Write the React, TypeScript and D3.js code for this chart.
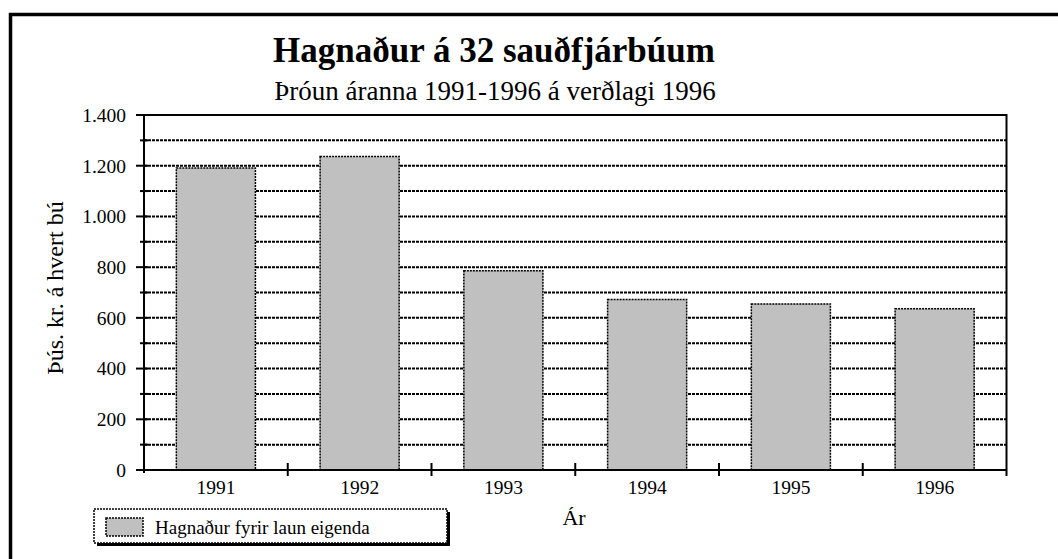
import React, { useRef, useEffect } from "react";
import * as d3 from "d3";

// data
const years = ["1991", "1992", "1993", "1994", "1995", "1996"];
const profit = [1191, 1236, 786, 672, 655, 636];
const yTicks = [0, 200, 400, 600, 800, 1000, 1200, 1400];
const yMinorTicks = [100, 300, 500, 700, 900, 1100, 1300];

const title = "Hagnaður á 32 sauðfjárbúum";
const subtitle = "Þróun áranna 1991-1996 á verðlagi 1996";
const yLabel = "Þús. kr. á hvert bú";
const xLabel = "Ár";
const legendLabel = "Hagnaður fyrir laun eigenda";

const FONT = "'Liberation Serif', 'Times New Roman', serif";

const App = () => {
  const svgRef = useRef<SVGSVGElement>(null);

  useEffect(() => {
    const svg = d3.select(svgRef.current);
    svg.selectAll("*").remove();

    const width = 1058;
    const height = 559;
    const margin = { top: 115, right: 51.5, bottom: 89, left: 144 };

    const locale = d3.formatLocale({
      decimal: ",",
      thousands: ".",
      grouping: [3],
      currency: ["", ""],
    });
    const fmt = locale.format(",");

    const x = d3
      .scaleBand()
      .domain(years)
      .range([margin.left, width - margin.right])
      .paddingInner(0.45)
      .paddingOuter(0.225);

    const y = d3
      .scaleLinear()
      .domain([0, 1400])
      .range([height - margin.bottom, margin.top]);

    const x0 = margin.left;
    const x1 = width - margin.right;
    const y0 = y(0);
    const step = x.step();

    // outer frame (runs off the page on the right and bottom)
    svg
      .append("rect")
      .attr("x", 10.5)
      .attr("y", 14.5)
      .attr("width", 1100)
      .attr("height", 600)
      .attr("fill", "none")
      .attr("stroke", "#000")
      .attr("stroke-width", 3.5);

    // title
    svg
      .append("text")
      .attr("x", 494)
      .attr("y", 62)
      .attr("text-anchor", "middle")
      .attr("font-family", FONT)
      .attr("font-weight", "bold")
      .attr("font-size", 35)
      .text(title);

    svg
      .append("text")
      .attr("x", 495)
      .attr("y", 100)
      .attr("text-anchor", "middle")
      .attr("font-family", FONT)
      .attr("font-size", 27)
      .text(subtitle);

    // gridlines
    svg
      .append("g")
      .selectAll("line")
      .data([...yTicks.slice(1, -1), ...yMinorTicks])
      .enter()
      .append("line")
      .attr("x1", x0)
      .attr("x2", x1)
      .attr("y1", (d) => y(d))
      .attr("y2", (d) => y(d))
      .attr("stroke", "#000")
      .attr("stroke-width", 2)
      .attr("stroke-dasharray", "3,1");

    // plot frame: top and right
    svg
      .append("path")
      .attr("d", `M${x0},${y(1400)}H${x1}V${y0 + 6}`)
      .attr("fill", "none")
      .attr("stroke", "#000")
      .attr("stroke-width", 2);

    // bars
    svg
      .selectAll(".bar")
      .data(years)
      .enter()
      .append("rect")
      .attr("class", "bar")
      .attr("x", (d) => x(d)!)
      .attr("y", (d, i) => y(profit[i]))
      .attr("width", x.bandwidth())
      .attr("height", (d, i) => y0 - y(profit[i]))
      .attr("fill", "#c0c0c0")
      .attr("stroke", "#000")
      .attr("stroke-width", 1.5)
      .attr("stroke-dasharray", "2,1");

    // y axis
    const yAxis = svg.append("g");
    yAxis
      .append("line")
      .attr("x1", x0)
      .attr("x2", x0)
      .attr("y1", y(1400))
      .attr("y2", y0 + 3)
      .attr("stroke", "#000")
      .attr("stroke-width", 2);
    yAxis
      .selectAll(".major")
      .data(yTicks)
      .enter()
      .append("line")
      .attr("x1", x0 - 8)
      .attr("x2", x0 + 4)
      .attr("y1", (d) => y(d))
      .attr("y2", (d) => y(d))
      .attr("stroke", "#000")
      .attr("stroke-width", 2);
    yAxis
      .selectAll(".minor")
      .data(yMinorTicks)
      .enter()
      .append("line")
      .attr("x1", x0 - 4)
      .attr("x2", x0 + 4)
      .attr("y1", (d) => y(d))
      .attr("y2", (d) => y(d))
      .attr("stroke", "#000")
      .attr("stroke-width", 2);
    yAxis
      .selectAll("text")
      .data(yTicks)
      .enter()
      .append("text")
      .attr("x", x0 - 18)
      .attr("y", (d) => y(d))
      .attr("dy", "0.35em")
      .attr("text-anchor", "end")
      .attr("font-family", FONT)
      .attr("font-size", 19.5)
      .text((d) => fmt(d));

    // x axis
    const xAxis = svg.append("g");
    xAxis
      .append("line")
      .attr("x1", x0)
      .attr("x2", x1)
      .attr("y1", y0)
      .attr("y2", y0)
      .attr("stroke", "#000")
      .attr("stroke-width", 2);
    xAxis
      .selectAll(".tick")
      .data(years.slice(0, -1))
      .enter()
      .append("line")
      .attr("x1", (d) => x(d)! + x.bandwidth() / 2 + step / 2)
      .attr("x2", (d) => x(d)! + x.bandwidth() / 2 + step / 2)
      .attr("y1", y0 - 7)
      .attr("y2", y0 + 6)
      .attr("stroke", "#000")
      .attr("stroke-width", 2);
    xAxis
      .selectAll("text")
      .data(years)
      .enter()
      .append("text")
      .attr("x", (d) => x(d)! + x.bandwidth() / 2)
      .attr("y", y0 + 24)
      .attr("text-anchor", "middle")
      .attr("font-family", FONT)
      .attr("font-size", 19.5)
      .text((d) => d);

    // axis titles
    svg
      .append("text")
      .attr("transform", `translate(63,288) rotate(-90)`)
      .attr("text-anchor", "middle")
      .attr("font-family", FONT)
      .attr("font-size", 24)
      .text(yLabel);

    svg
      .append("text")
      .attr("x", 574)
      .attr("y", 525)
      .attr("text-anchor", "middle")
      .attr("font-family", FONT)
      .attr("font-size", 22)
      .text(xLabel);

    // legend
    const lg = svg.append("g");
    lg.append("rect")
      .attr("x", 97)
      .attr("y", 512)
      .attr("width", 353)
      .attr("height", 34)
      .attr("fill", "#000")
      .attr("stroke", "none");
    lg.append("rect")
      .attr("x", 94)
      .attr("y", 509)
      .attr("width", 353)
      .attr("height", 34)
      .attr("fill", "#fff")
      .attr("stroke", "#000")
      .attr("stroke-width", 1.5)
      .attr("stroke-dasharray", "2,1");
    lg.append("rect")
      .attr("x", 106)
      .attr("y", 518)
      .attr("width", 37)
      .attr("height", 18)
      .attr("fill", "#c0c0c0")
      .attr("stroke", "#000")
      .attr("stroke-width", 1.5)
      .attr("stroke-dasharray", "2,1");
    lg.append("text")
      .attr("x", 155)
      .attr("y", 534)
      .attr("font-family", FONT)
      .attr("font-size", 19)
      .text(legendLabel);
  }, []);

  return (
    <svg
      ref={svgRef}
      width={1058}
      height={559}
      style={{ position: "absolute", left: 0, top: 0, background: "#fff" }}
    ></svg>
  );
};

export default App;
